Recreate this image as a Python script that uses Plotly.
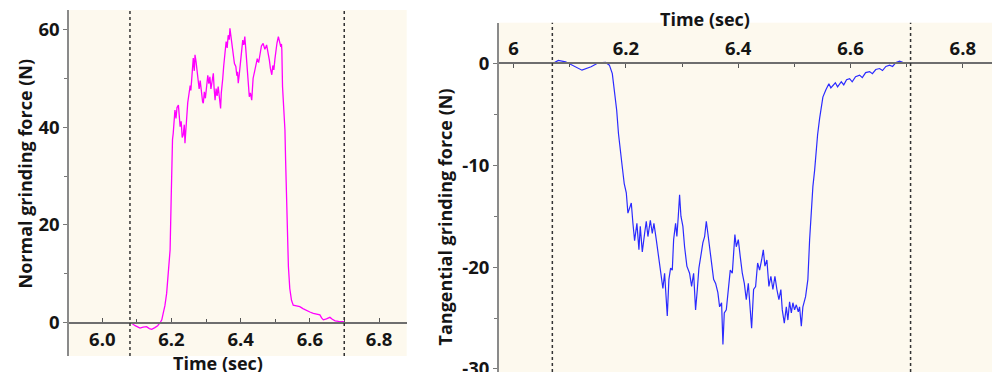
import plotly.graph_objects as go

# ---------------- data ----------------
normal_time = [6.080, 6.085, 6.095, 6.109, 6.118, 6.128, 6.136, 6.143, 6.152, 6.160, 6.167, 6.172,
               6.176, 6.181, 6.186, 6.191, 6.196, 6.199, 6.201, 6.203, 6.205, 6.207, 6.210, 6.213,
               6.216, 6.220, 6.222, 6.225, 6.228, 6.231, 6.234, 6.237, 6.239, 6.241, 6.244, 6.247,
               6.249, 6.251, 6.254, 6.256, 6.258, 6.260, 6.263, 6.266, 6.268, 6.271, 6.274, 6.277,
               6.280, 6.283, 6.287, 6.290, 6.292, 6.295, 6.298, 6.302, 6.305, 6.308, 6.311, 6.314,
               6.317, 6.321, 6.323, 6.326, 6.329, 6.332, 6.335, 6.338, 6.340, 6.342, 6.344, 6.345,
               6.348, 6.351, 6.355, 6.358, 6.361, 6.364, 6.367, 6.369, 6.372, 6.374, 6.377, 6.379,
               6.382, 6.386, 6.389, 6.391, 6.393, 6.396, 6.398, 6.401, 6.404, 6.406, 6.409, 6.412,
               6.415, 6.417, 6.420, 6.423, 6.425, 6.428, 6.432, 6.434, 6.436, 6.440, 6.444, 6.448,
               6.452, 6.456, 6.460, 6.465, 6.470, 6.475, 6.479, 6.483, 6.486, 6.490, 6.493, 6.496,
               6.499, 6.502, 6.505, 6.509, 6.512, 6.516, 6.518, 6.519, 6.521, 6.523, 6.525, 6.528,
               6.530, 6.533, 6.535, 6.538, 6.542, 6.547, 6.552, 6.560, 6.571, 6.580, 6.591, 6.600,
               6.610, 6.620, 6.629, 6.634, 6.639, 6.648, 6.658, 6.665, 6.673, 6.683, 6.692, 6.701]
normal_force = [0.0, -0.1, -0.6, -1.1, -0.9, -0.8, -1.2, -1.35, -1.0, -0.6, 0.0, 0.6,
                1.9, 3.5, 6.0, 10.0, 14.9, 25.0, 35.3, 37.5, 38.7, 42.0, 43.5, 41.8,
                44.0, 44.5, 41.5, 40.1, 41.2, 37.9, 38.4, 40.5, 36.7, 39.5, 42.1, 45.0,
                46.0, 47.2, 48.5, 47.5, 49.6, 52.0, 54.1, 51.5, 54.8, 53.4, 51.0, 50.3,
                47.8, 49.5, 46.6, 45.2, 44.9, 47.2, 45.9, 48.3, 50.6, 48.9, 50.3, 47.8,
                49.4, 51.0, 48.2, 45.5, 47.9, 46.4, 48.3, 46.0, 44.5, 43.8, 47.0, 47.6,
                49.8, 52.5, 55.1, 57.5, 56.2, 58.8, 57.9, 60.2, 58.5, 57.1, 55.6, 55.1,
                53.0, 52.4, 50.5, 51.3, 49.0, 50.8, 52.4, 54.9, 56.6, 57.8, 56.8, 58.5,
                55.8, 53.7, 50.5, 48.6, 46.2, 47.0, 45.5, 47.8, 50.0, 51.3, 52.4, 54.0,
                53.2, 55.1, 56.6, 57.1, 55.9, 56.8, 55.5, 53.7, 52.0, 50.7, 52.6, 51.7,
                53.9, 55.8, 57.2, 58.5, 57.4, 56.4, 57.0, 55.8, 48.3, 45.5, 43.5, 39.4,
                33.0, 25.1, 17.5, 11.5, 7.0, 4.6, 3.6, 3.5, 3.3, 2.9, 2.6, 2.2,
                1.9, 1.7, 1.6, 1.0, 0.6, 0.8, 1.1, 0.7, 0.4, 0.3, 0.2, 0.2]

tang_time = [6.0698, 6.0796, 6.0926, 6.1056, 6.1218, 6.1380, 6.1510, 6.1640, 6.1706, 6.1758,
             6.1804, 6.1836, 6.1868, 6.1900, 6.1934, 6.1970, 6.2007, 6.2036, 6.2096, 6.2125,
             6.2155, 6.2196, 6.2232, 6.2256, 6.2292, 6.2333, 6.2363, 6.2392, 6.2435, 6.2470,
             6.2499, 6.2541, 6.2588, 6.2630, 6.2659, 6.2689, 6.2719, 6.2737, 6.2766, 6.2796,
             6.2826, 6.2850, 6.2885, 6.2908, 6.2933, 6.2956, 6.2980, 6.3015, 6.3045, 6.3086,
             6.3134, 6.3170, 6.3206, 6.3241, 6.3272, 6.3300, 6.3343, 6.3371, 6.3402, 6.3432,
             6.3460, 6.3491, 6.3526, 6.3562, 6.3598, 6.3638, 6.3669, 6.3704, 6.3728, 6.3752,
             6.3788, 6.3824, 6.3859, 6.3895, 6.3918, 6.3941, 6.3966, 6.4002, 6.4037, 6.4073,
             6.4109, 6.4144, 6.4180, 6.4216, 6.4239, 6.4274, 6.4310, 6.4346, 6.4381, 6.4417,
             6.4447, 6.4476, 6.4511, 6.4547, 6.4582, 6.4618, 6.4654, 6.4689, 6.4725, 6.4760,
             6.4785, 6.4821, 6.4857, 6.4885, 6.4915, 6.4946, 6.4974, 6.5004, 6.5035, 6.5070,
             6.5093, 6.5124, 6.5152, 6.5200, 6.5241, 6.5272, 6.5302, 6.5330, 6.5361, 6.5387,
             6.5414, 6.5450, 6.5508, 6.5560, 6.5615, 6.5650, 6.5686, 6.5730, 6.5770, 6.5836,
             6.5880, 6.5930, 6.5984, 6.6030, 6.6090, 6.6162, 6.6210, 6.6270, 6.6340, 6.6390,
             6.6450, 6.6518, 6.6570, 6.6630, 6.6696, 6.6750, 6.6810, 6.6874, 6.6930, 6.6994,
             6.7070]
tang_force = [0.0, 0.3, 0.16, -0.17, -0.66, -0.33, 0.06, 0.1, -0.17, -1.0,
              -2.9, -4.6, -6.9, -8.2, -10.1, -11.8, -12.7, -14.7, -13.7, -15.7,
              -17.4, -15.7, -18.3, -16.0, -18.5, -16.7, -15.5, -17.0, -15.4, -16.7,
              -15.7, -17.3, -19.3, -21.2, -22.1, -20.6, -22.9, -24.8, -21.2, -20.1,
              -20.3, -17.3, -15.7, -17.0, -15.0, -12.9, -15.0, -16.0, -18.0, -19.9,
              -20.6, -21.9, -20.6, -24.2, -22.2, -20.1, -18.6, -17.6, -17.0, -15.5,
              -16.7, -18.0, -19.3, -21.2, -21.6, -22.5, -23.9, -23.5, -27.6, -24.5,
              -24.2, -22.2, -20.3, -20.6, -18.3, -16.8, -18.0, -17.3, -19.0, -20.6,
              -21.6, -23.2, -21.6, -23.9, -26.0, -22.2, -21.9, -19.6, -20.3, -19.3,
              -18.3, -19.9, -19.3, -21.9, -20.9, -22.2, -20.9, -22.2, -23.2, -22.2,
              -24.2, -25.5, -23.9, -25.2, -23.4, -24.5, -23.5, -24.2, -23.7, -24.4,
              -23.9, -25.8, -23.9, -22.9, -21.2, -17.3, -14.1, -12.1, -10.5, -8.5,
              -7.0, -5.4, -3.3, -2.6, -2.0, -2.4, -2.2, -1.9, -2.3, -1.8,
              -2.1, -1.6, -1.5, -1.8, -1.3, -1.15, -1.4, -0.9, -0.8, -1.0,
              -0.6, -0.5, -0.7, -0.3, -0.17, -0.3, 0.1, 0.23, 0.1, 0.06,
              0.0]

left_xticks = [6.0, 6.2, 6.4, 6.6, 6.8]
left_xticktext = ["6.0", "6.2", "6.4", "6.6", "6.8"]
left_yticks = [0, 20, 40, 60]
left_yticktext = ["0", "20", "40", "60"]
right_xticks = [6.0, 6.2, 6.4, 6.6, 6.8]
right_xticktext = ["6", "6.2", "6.4", "6.6", "6.8"]
right_yticks = [0, -10, -20, -30]
right_yticktext = ["0", "-10", "-20", "-30"]
left_markers = [6.080, 6.6994]
right_markers = [6.069, 6.707]

left_xrange = [5.9046, 6.880]
left_yrange = [-6.8, 63.95]
right_xrange = [5.974, 6.852]
right_yrange = [-30.3, 4.0]

# ---------------- layout geometry ----------------
W, H = 992, 372
left_xdom = [69.3 / W, 406.7 / W]
left_ydom = [(H - 356) / H, (H - 10) / H]
right_xdom = [499 / W, 1.0]
right_ydom = [0.0, (H - 22.7) / H]


def zero_pos(ydom, yr):
    return ydom[0] + (0 - yr[0]) / (yr[1] - yr[0]) * (ydom[1] - ydom[0])


TICKFONT = dict(family="Open Sans", size=18.5, color="#151515", weight="bold")
TITLEFONT = dict(family="Open Sans", size=18, color="#151515", weight="bold")
BG = "#fdf9ee"

fig = go.Figure()
fig.add_trace(go.Scatter(x=normal_time, y=normal_force, mode="lines",
                         line=dict(color="#ff00ff", width=1.3), xaxis="x", yaxis="y",
                         showlegend=False, hoverinfo="skip"))
fig.add_trace(go.Scatter(x=tang_time, y=tang_force, mode="lines",
                         line=dict(color="#2b2bff", width=1.2), xaxis="x2", yaxis="y2",
                         showlegend=False, hoverinfo="skip"))

for xv in left_markers:
    fig.add_shape(type="line", xref="x", yref="y domain", x0=xv, x1=xv, y0=0, y1=1,
                  line=dict(color="#333333", width=1.5, dash="dot"))
for xv in right_markers:
    fig.add_shape(type="line", xref="x2", yref="y2 domain", x0=xv, x1=xv, y0=0, y1=1,
                  line=dict(color="#333333", width=1.5, dash="dot"))

xcommon = dict(showgrid=False, zeroline=False, showline=True, linecolor="#6e6e6e", linewidth=1.5,
               ticks="inside", ticklen=4, tickwidth=1.2, tickcolor="#555555",
               tickfont=TICKFONT, anchor="free", fixedrange=True, automargin=False)
ycommon = dict(showgrid=False, zeroline=False, showline=True, linecolor="#8a8a8a", linewidth=2,
               ticks="outside", ticklen=4, tickwidth=1.2, tickcolor="#777777",
               tickfont=TICKFONT, fixedrange=True, automargin=False)

fig.update_layout(
    width=W, height=H,
    margin=dict(l=0, r=0, t=0, b=0, autoexpand=False),
    paper_bgcolor="white", plot_bgcolor=BG,
    xaxis=dict(domain=left_xdom, range=left_xrange, tickvals=left_xticks, ticktext=left_xticktext,
               side="bottom", position=zero_pos(left_ydom, left_yrange),
               minor=dict(dtick=0.1, tick0=6.0, ticks="inside", ticklen=3, tickcolor="#555555"),
               **xcommon),
    yaxis=dict(domain=left_ydom, range=left_yrange, tickvals=left_yticks, ticktext=left_yticktext,
               anchor="x",
               minor=dict(dtick=10, tick0=0, ticks="outside", ticklen=3, tickcolor="#777777"),
               **ycommon),
    xaxis2=dict(domain=right_xdom, range=right_xrange, tickvals=right_xticks, ticktext=right_xticktext,
                side="top", position=zero_pos(right_ydom, right_yrange),
                minor=dict(dtick=0.1, tick0=6.0, ticks="inside", ticklen=3, tickcolor="#555555"),
                **xcommon),
    yaxis2=dict(domain=right_ydom, range=right_yrange, tickvals=right_yticks, ticktext=right_yticktext,
                anchor="x2", ticklabeloverflow="allow",
                minor=dict(dtick=5, tick0=0, ticks="outside", ticklen=3, tickcolor="#777777"),
                **ycommon),
)

fig.add_annotation(text="Time (sec)", xref="paper", yref="paper", x=217.5 / W, y=(H - 363) / H,
                   xanchor="center", yanchor="middle", showarrow=False, font=TITLEFONT)
fig.add_annotation(text="Time (sec)", xref="paper", yref="paper", x=705 / W, y=(H - 19.3) / H,
                   xanchor="center", yanchor="middle", showarrow=False, font=TITLEFONT)
fig.add_annotation(text="Normal grinding force (N)", xref="paper", yref="paper", x=24.5 / W,
                   y=(H - 174) / H, xanchor="center", yanchor="middle", textangle=-90,
                   showarrow=False, font=TITLEFONT)
fig.add_annotation(text="Tangential grinding force (N)", xref="paper", yref="paper", x=444 / W,
                   y=(H - 217.5) / H, xanchor="center", yanchor="middle", textangle=-90,
                   showarrow=False, font=TITLEFONT)

fig.write_html("out.html")
